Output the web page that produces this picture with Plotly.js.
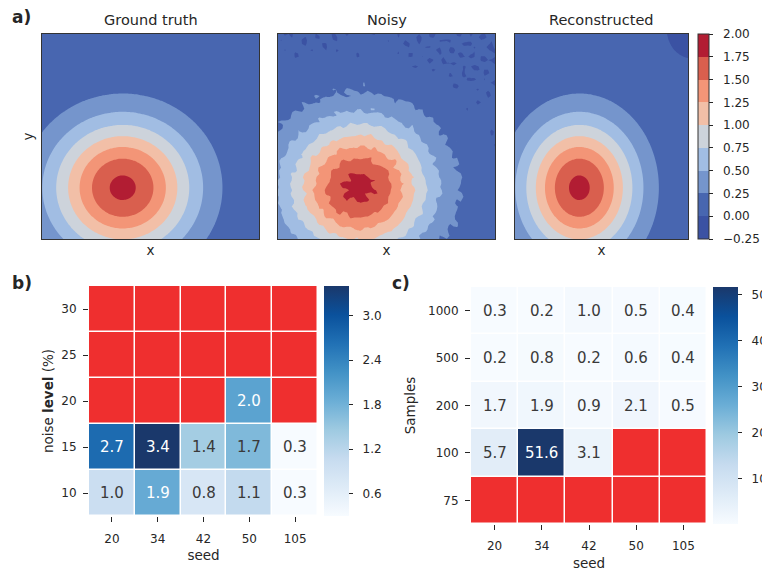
<!DOCTYPE html>
<html><head><meta charset="utf-8">
<script src="https://cdn.plot.ly/plotly-3.0.1.min.js"></script>
<style>html,body{margin:0;padding:0;background:#fff}#chart{width:762px;height:576px}</style>
</head><body><div id="chart"></div>
<script>
// ---------- Panel a: smooth bump fields (parameters) ----------
const panelTitles = ['Ground truth', 'Noisy', 'Reconstructed'];
const levelStart = -0.25, levelEnd = 2.0, levelStep = 0.25;
const levelTicks = [-0.25, 0, 0.25, 0.5, 0.75, 1.0, 1.25, 1.5, 1.75, 2.0];
const levelTickText = ['\u22120.25', '0.00', '0.25', '0.50', '0.75', '1.00', '1.25', '1.50', '1.75', '2.00'];
const bandColors = ['#3b52a3', '#4866b0', '#7595cc', '#a1bde3', '#cdd3db', '#f2bfa7', '#f39577', '#d95f4e', '#b21d33'];
const bumpCenter = [0.372, 0.25];          // x, y (unit square)
const bumpSigma = [0.231, 0.231];
const bumpPeak = [1.81, 1.81, 1.81];       // ground truth, noisy, reconstructed
const noisyOffset = 0.018;
const noiseAmp = 0.03;
const noiseWaves = [[13.1, 5.3, 0.4], [-7.7, 15.9, 1.9], [17.3, -9.2, 3.1], [3.9, 19.7, 5.0],
                    [-15.4, -6.8, 2.2], [10.6, 12.4, 4.4], [-4.2, -17.5, 0.9], [20.8, 2.1, 1.3]];
const cornerDip = [1.0, 1.0, 0.05, 0.042]; // reconstructed: x, y, depth, width

// ---------- Panel b ----------
const seeds = ['20', '34', '42', '50', '105'];
const noiseLevels = ['30', '25', '20', '15', '10'];
const errNoise = [
  [null, null, null, null, null],
  [null, null, null, null, null],
  [null, null, null, 2.0, null],
  [2.7, 3.4, 1.4, 1.7, 0.3],
  [1.0, 1.9, 0.8, 1.1, 0.3]];
const noiseCbTicks = [0.6, 1.2, 1.8, 2.4, 3.0];

// ---------- Panel c ----------
const samples = ['1000', '500', '200', '100', '75'];
const errSamples = [
  [0.3, 0.2, 1.0, 0.5, 0.4],
  [0.2, 0.8, 0.2, 0.6, 0.4],
  [1.7, 1.9, 0.9, 2.1, 0.5],
  [5.7, 51.6, 3.1, null, null],
  [null, null, null, null, null]];
const samplesCbTicks = [0, 10, 20, 30, 40, 50];

// ---------- styles ----------
const FONT = 'DejaVu Sans, Liberation Sans, sans-serif';
const TXT = '#262626';
const PAD = '\u00a0\u00a0';   // gap between colour-bar ticks and their labels
const missingColor = '#ef2f2f';
const blues = [[0, '#f7fbff'], [0.125, '#deebf7'], [0.25, '#c6dbef'], [0.375, '#9ecae1'], [0.5, '#6baed6'],
               [0.625, '#4292c6'], [0.75, '#2171b5'], [0.875, '#0a519c'], [1, '#1a386b']];

// ---------- build fields ----------
function linspace(n) { const a = []; for (let i = 0; i < n; i++) a.push(i / (n - 1)); return a; }
function bump(x, y, peak) {
  const dx = (x - bumpCenter[0]) / bumpSigma[0], dy = (y - bumpCenter[1]) / bumpSigma[1];
  return peak * Math.exp(-0.5 * (dx * dx + dy * dy));
}
function waveTexture(x, y) {
  let s = 0;
  for (const w of noiseWaves) s += Math.sin(2 * Math.PI * (w[0] * x + w[1] * y) + w[2]);
  return s / Math.sqrt(noiseWaves.length / 2);
}
function dip(x, y) {
  const dx = x - cornerDip[0], dy = y - cornerDip[1];
  return -cornerDip[2] * Math.exp(-(dx * dx + dy * dy) / (2 * cornerDip[3] * cornerDip[3]));
}
const gFine = linspace(121), gCoarse = linspace(64);
function field(grid, f) { return grid.map(y => grid.map(x => f(x, y))); }
const zTruth = field(gFine, (x, y) => bump(x, y, bumpPeak[0]));
const zNoisy = field(gCoarse, (x, y) => bump(x, y, bumpPeak[1]) + noisyOffset + noiseAmp * waveTexture(x, y));
const zRecon = field(gFine, (x, y) => bump(x, y, bumpPeak[2]) + dip(x, y));

// contour fill colours: band i is sampled at fraction (i+1)/10 of the scale
const bandScale = [[0, bandColors[0]]];
bandColors.forEach((c, i) => bandScale.push([(i + 1) / 10, c]));
bandScale.push([1, bandColors[bandColors.length - 1]]);
// stepped scale for the discrete colour bar (-0.25 .. 2.00)
const stepScale = [];
bandColors.forEach((c, i) => { stepScale.push([i / 9, c]); stepScale.push([(i + 1) / 9, c]); });

function contourTrace(grid, z, n, smooth) {
  return {
    type: 'contour', x: grid, y: grid, z: z, xaxis: 'x' + (n === 1 ? '' : n), yaxis: 'y' + (n === 1 ? '' : n),
    autocontour: false,
    contours: { start: levelStart, end: levelEnd, size: levelStep, coloring: 'fill', showlines: false },
    line: { width: 0, smoothing: smooth },
    colorscale: bandScale, showscale: false, hoverinfo: 'skip'
  };
}

// invisible carrier of the discrete colour bar of panel a
const levelBar = {
  type: 'scatter', mode: 'markers', x: [null], y: [null], xaxis: 'x3', yaxis: 'y3', hoverinfo: 'skip',
  marker: {
    color: [levelStart, levelEnd], cmin: levelStart, cmax: levelEnd, colorscale: stepScale, showscale: true,
    opacity: 0,
    colorbar: {
      x: 698 / 762, xanchor: 'left', xpad: 0, ypad: 0, thickness: 11,
      y: 1 - 136.5 / 576, yanchor: 'middle', len: 205 / 576, lenmode: 'fraction',
      outlinecolor: '#333', outlinewidth: 1,
      tickmode: 'array', tickvals: levelTicks, ticktext: levelTickText.map(t => PAD + t),
      ticks: 'outside', ticklen: 4, tickcolor: TXT, tickwidth: 1,
      tickfont: { family: FONT, size: 12, color: TXT }
    }
  }
};

function maskOf(z) { return z.map(r => r.map(v => (v === null ? 1 : null))); }
function zRange(z) { const v = z.flat().filter(t => t !== null); return [Math.min(...v), Math.max(...v)]; }

function heatTraces(xc, yc, z, ax, cb) {
  const r = zRange(z);
  return [
    { type: 'heatmap', x: xc, y: yc, z: maskOf(z), xaxis: 'x' + ax, yaxis: 'y' + ax,
      colorscale: [[0, missingColor], [1, missingColor]], zmin: 0, zmax: 1, showscale: false,
      xgap: 1.5, ygap: 1.5, hoverinfo: 'skip' },
    { type: 'heatmap', x: xc, y: yc, z: z, xaxis: 'x' + ax, yaxis: 'y' + ax,
      colorscale: blues, zmin: r[0], zmax: r[1], xgap: 1.5, ygap: 1.5, hoverinfo: 'skip',
      colorbar: Object.assign({
        xanchor: 'left', xpad: 0, ypad: 0, thickness: 25, yanchor: 'middle', lenmode: 'fraction',
        outlinewidth: 0, ticks: 'outside', ticklen: 4, tickcolor: TXT,
        tickfont: { family: FONT, size: 12, color: TXT }, tickmode: 'array'
      }, cb) }
  ];
}

// cell labels: positioned by category index (numeric-looking names would be read as numbers)
function cellLabels(z, ax) {
  const r = zRange(z), out = [];
  z.forEach((row, i) => row.forEach((v, j) => {
    if (v === null) return;
    const t = (v - r[0]) / (r[1] - r[0]);
    out.push({ xref: 'x' + ax, yref: 'y' + ax, x: j, y: i, text: v.toFixed(1), showarrow: false,
               font: { family: FONT, size: 15, color: t > 0.5 ? '#ffffff' : '#3a3a3a' } });
  }));
  return out;
}

const data = [
  contourTrace(gFine, zTruth, 1, 1),
  contourTrace(gCoarse, zNoisy, 2, 0),
  contourTrace(gFine, zRecon, 3, 1),
  levelBar,
  ...heatTraces(seeds, noiseLevels, errNoise, 4,
    { x: 324 / 762, y: 1 - 401 / 576, len: 230 / 576, tickvals: noiseCbTicks,
      ticktext: noiseCbTicks.map(v => PAD + v.toFixed(1)) }),
  ...heatTraces(seeds, samples, errSamples, 5,
    { x: 713 / 762, y: 1 - 405.5 / 576, len: 237 / 576, tickvals: samplesCbTicks,
      ticktext: samplesCbTicks.map(v => PAD + v) })
];

function px(a, b) { return [a / 762, b / 762]; }
function py(top, bottom) { return [1 - bottom / 576, 1 - top / 576]; }

const frameAxis = {
  range: [0, 1], showticklabels: false, ticks: '', showgrid: false, zeroline: false,
  showline: true, mirror: true, linecolor: '#333', linewidth: 1.2, fixedrange: true
};
function axisTitle(t, s) { return { text: t, font: { family: FONT, size: 13.5, color: TXT }, standoff: s }; }

const heatAxis = {
  type: 'category', ticks: 'outside', ticklen: 5, tickcolor: TXT, showgrid: false, zeroline: false,
  showline: false, tickfont: { family: FONT, size: 12, color: TXT }
};

const layout = {
  width: 762, height: 576, margin: { l: 0, r: 0, t: 0, b: 0, autoexpand: false },
  paper_bgcolor: '#ffffff', plot_bgcolor: '#ffffff', showlegend: false,
  font: { family: FONT, size: 12, color: TXT },
  xaxis: Object.assign({}, frameAxis, { domain: px(42, 259), anchor: 'y', title: axisTitle('x', 6) }),
  yaxis: Object.assign({}, frameAxis, { domain: py(34, 239), anchor: 'x', title: axisTitle('y', 4) }),
  xaxis2: Object.assign({}, frameAxis, { domain: px(278, 495), anchor: 'y2', title: axisTitle('x', 6) }),
  yaxis2: Object.assign({}, frameAxis, { domain: py(34, 239), anchor: 'x2' }),
  xaxis3: Object.assign({}, frameAxis, { domain: px(515, 688), anchor: 'y3', title: axisTitle('x', 6) }),
  yaxis3: Object.assign({}, frameAxis, { domain: py(34, 239), anchor: 'x3' }),
  xaxis4: Object.assign({}, heatAxis, { domain: px(89, 318), anchor: 'y4', range: [-0.5, 4.5],
                                        ticklabelstandoff: 7, title: axisTitle('seed', 5) }),
  yaxis4: Object.assign({}, heatAxis, { domain: py(286, 516), anchor: 'x4', range: [4.5, -0.5],
                                        ticklabelstandoff: 4, title: axisTitle('noise <b>level</b> (%)', 4) }),
  xaxis5: Object.assign({}, heatAxis, { domain: px(471, 707), anchor: 'y5', range: [-0.5, 4.5],
                                        ticklabelstandoff: 6, title: axisTitle('seed', 6) }),
  yaxis5: Object.assign({}, heatAxis, { domain: py(287, 524), anchor: 'x5', range: [4.5, -0.5],
                                        ticklabelstandoff: 4, title: axisTitle('Samples', 9) }),
  annotations: [
    ...panelTitles.map((t, i) => ({
      xref: 'paper', yref: 'paper', x: [150.5, 386.5, 601.5][i] / 762, y: 1 - 20 / 576,
      xanchor: 'center', yanchor: 'middle', text: t, showarrow: false,
      font: { family: FONT, size: 14.5, color: TXT } })),
    { xref: 'paper', yref: 'paper', x: 10 / 762, y: 1 - 17 / 576, xanchor: 'left', yanchor: 'middle',
      text: '<b>a)</b>', showarrow: false, font: { family: FONT, size: 17, color: TXT } },
    { xref: 'paper', yref: 'paper', x: 10 / 762, y: 1 - 283 / 576, xanchor: 'left', yanchor: 'middle',
      text: '<b>b)</b>', showarrow: false, font: { family: FONT, size: 17, color: TXT } },
    { xref: 'paper', yref: 'paper', x: 390 / 762, y: 1 - 283 / 576, xanchor: 'left', yanchor: 'middle',
      text: '<b>c)</b>', showarrow: false, font: { family: FONT, size: 17, color: TXT } },
    ...cellLabels(errNoise, 4),
    ...cellLabels(errSamples, 5)
  ]
};

Plotly.newPlot('chart', data, layout, { staticPlot: true, displayModeBar: false });
</script>
</body></html>
